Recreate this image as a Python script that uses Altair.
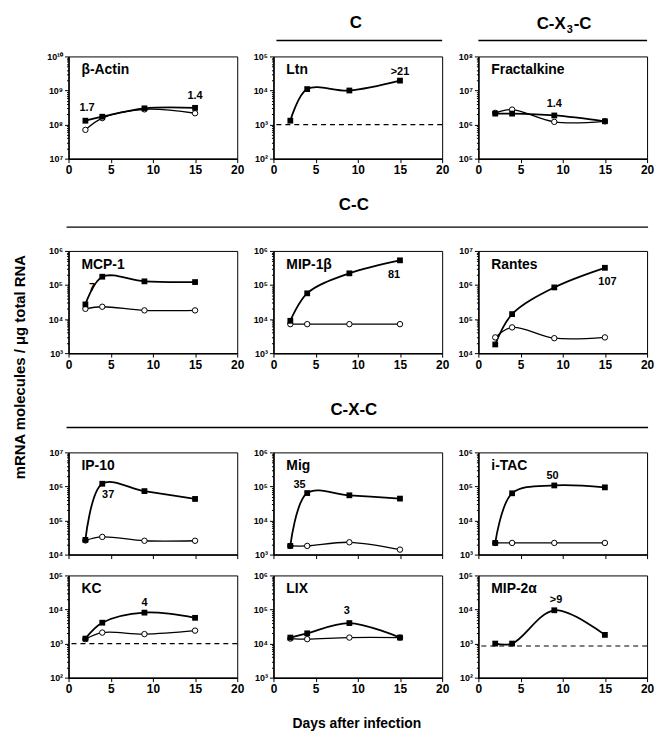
import altair as alt
import pandas as pd

FONT = "Liberation Sans"

DAYS = [2, 4, 9, 15]
XTICKS = [0, 5, 10, 15, 20]

# infected (filled squares) and control (open circles) series
actin_inf = [1.3e8, 1.7e8, 3.0e8, 3.1e8]
actin_ctl = [7.0e7, 1.55e8, 2.8e8, 2.15e8]
ltn_inf = [1.3e3, 1.1e4, 1.0e4, 1.95e4]
fkn_inf = [2.1e6, 2.1e6, 1.85e6, 1.25e6]
fkn_ctl = [2.2e6, 2.75e6, 1.2e6, 1.25e6]
mcp1_inf = [2.7e4, 1.75e5, 1.28e5, 1.22e5]
mcp1_ctl = [2.0e4, 2.3e4, 1.8e4, 1.8e4]
mip1b_inf = [8.9e3, 5.7e4, 2.2e5, 5.3e5]
mip1b_ctl = [7.1e3, 7.1e3, 7.1e3, 7.1e3]
rantes_inf = [1.8e4, 1.4e5, 8.5e5, 3.2e6]
rantes_ctl = [2.9e4, 5.7e4, 2.75e4, 2.9e4]
ip10_inf = [2.7e4, 1.2e6, 7.3e5, 4.3e5]
ip10_ctl = [2.6e4, 3.3e4, 2.55e4, 2.55e4]
mig_inf = [1.8e3, 6.4e4, 5.5e4, 4.4e4]
mig_ctl = [1.8e3, 1.8e3, 2.3e3, 1.4e3]
itac_inf = [2.2e3, 6.3e4, 1.07e5, 9.4e4]
itac_ctl = [2.2e3, 2.2e3, 2.2e3, 2.2e3]
kc_inf = [1.4e3, 4.1e3, 8.1e3, 5.7e3]
kc_ctl = [1.35e3, 2.1e3, 1.9e3, 2.4e3]
lix_inf = [1.5e4, 2.0e4, 4.0e4, 1.5e4]
lix_ctl = [1.4e4, 1.35e4, 1.5e4, 1.5e4]
mip2a_inf = [1.0e3, 1.0e3, 9.5e3, 1.8e3]

# fold-change annotations: (day, value, text)
actin_ann = [(2.2, 3.0e8, "1.7"), (15, 7.0e8, "1.4")]
ltn_ann = [(15, 3.5e4, ">21")]
fkn_ann = [(9, 3.9e6, "1.4")]
mcp1_ann = [(2.8, 8.0e4, "7")]
mip1b_ann = [(14.3, 2.0e5, "81")]
rantes_ann = [(15.3, 1.2e6, "107")]
ip10_ann = [(4.7, 5.6e5, "37")]
mig_ann = [(3.1, 1.1e5, "35")]
itac_ann = [(8.8, 2.0e5, "50")]
kc_ann = [(9, 1.6e4, "4")]
lix_ann = [(8.7, 9.0e4, "3")]
mip2a_ann = [(9.2, 1.95e4, ">9")]

W, H = 170, 103

LOG = "(log(datum.value)/LN10)"
MAJOR = f"abs({LOG} - round({LOG})) < 0.01"
LABEL = (f"{MAJOR} ? '10' + (round({LOG}) >= 10 ? '¹⁰' : "
         f"substring('⁰¹²³⁴⁵⁶⁷⁸⁹', round({LOG}), round({LOG}) + 1)) : ''")


def txt(t, x, y, size=17, angle=0, align="center"):
    kw = dict(fontSize=size, fontWeight="bold", font=FONT, align=align,
              baseline="middle", color="black")
    if angle:
        kw["angle"] = angle
    return alt.Chart(pd.DataFrame({"t": [t]})).mark_text(**kw).encode(
        text="t:N", x=alt.value(x), y=alt.value(y))


def hline(x1, x2, y):
    return alt.Chart(pd.DataFrame({"t": [""]})).mark_rule(
        color="black", strokeWidth=1.5).encode(
        x=alt.value(x1), x2=alt.value(x2), y=alt.value(y))


def panel(name, lo, inf, ctl=None, ann=(), thr=None, xlabels=True, extras=()):
    ymin, ymax = 10.0 ** lo, 10.0 ** (lo + 3)
    yticks = [k * 10.0 ** e for e in range(lo, lo + 3) for k in range(1, 10)] + [ymax]
    xs = alt.X("d:Q", scale=alt.Scale(domain=[0, 20], nice=False),
               axis=alt.Axis(values=XTICKS, labels=xlabels, labelFontSize=12,
                             tickSize=4, labelPadding=2, title=None))
    ys = alt.Y("v:Q", scale=alt.Scale(type="log", domain=[ymin, ymax], nice=False),
               axis=alt.Axis(values=yticks, labelExpr=LABEL, labelFontSize=9,
                             tickSize={"condition": {"test": MAJOR, "value": 4}, "value": 2},
                             labelPadding=2, title=None))
    layers = []
    if thr is not None:
        layers.append(alt.Chart(pd.DataFrame({"v": [thr]})).mark_rule(
            color="black", strokeDash=[5, 4], strokeWidth=1.2).encode(y=ys))
    dfi = pd.DataFrame({"d": DAYS, "v": inf})
    layers.append(alt.Chart(dfi).mark_line(color="black", strokeWidth=1.8,
                                           interpolate="catmull-rom").encode(x=xs, y=ys))
    if ctl is not None:
        dfc = pd.DataFrame({"d": DAYS, "v": ctl})
        layers.append(alt.Chart(dfc).mark_line(color="black", strokeWidth=1.3,
                                               interpolate="catmull-rom").encode(x=xs, y=ys))
        layers.append(alt.Chart(dfc).mark_point(shape="circle", filled=True, fill="white",
                                                stroke="black", strokeWidth=1, size=30,
                                                opacity=1).encode(x=xs, y=ys))
    layers.append(alt.Chart(dfi).mark_point(shape="square", filled=True, color="black",
                                            size=34, opacity=1).encode(x=xs, y=ys))
    if ann:
        adf = pd.DataFrame({"d": [a[0] for a in ann], "v": [a[1] for a in ann],
                            "t": [a[2] for a in ann]})
        layers.append(alt.Chart(adf).mark_text(fontSize=11, fontWeight="bold", font=FONT,
                                               baseline="middle", color="black").encode(
            x=xs, y=ys, text="t:N"))
    layers.append(alt.Chart(pd.DataFrame({"t": [name]})).mark_text(
        align="left", baseline="alphabetic", fontSize=14, fontWeight="bold", font=FONT,
        color="black").encode(text="t:N", x=alt.value(13), y=alt.value(18)))
    layers.extend(extras)
    return alt.layer(*layers).properties(width=W, height=H)


def blank(h, extras=()):
    base = alt.Chart(pd.DataFrame({"t": [""]})).mark_text().encode(
        text="t:N", x=alt.value(0), y=alt.value(0))
    return alt.layer(base, *extras).properties(
        width=W, height=h, view=alt.ViewBackground(stroke="transparent"))


H2, H3 = 51, 58

cx3c_header = [
    txt("C-X", 88, -33, align="right"),
    txt("3", 89, -27, size=11, align="left"),
    txt("-C", 96, -33, align="left"),
    hline(0, 170, -16),
]

cells = [
    panel("β-Actin", 7, actin_inf, actin_ctl, actin_ann),
    panel("Ltn", 2, ltn_inf, None, ltn_ann, thr=1e3,
          extras=[txt("C", 83, -34), hline(3, 170, -16)]),
    panel("Fractalkine", 5, fkn_inf, fkn_ctl, fkn_ann, extras=cx3c_header),
    blank(H2, [hline(-2, 584, 48)]),
    blank(H2, [txt("C-C", 81, 26)]),
    blank(H2),
    panel("MCP-1", 3, mcp1_inf, mcp1_ctl, mcp1_ann,
          extras=[txt("mRNA molecules / μg total RNA", -49, 117, size=15, angle=270)]),
    panel("MIP-1β", 3, mip1b_inf, mip1b_ctl, mip1b_ann),
    panel("Rantes", 4, rantes_inf, rantes_ctl, rantes_ann),
    blank(H3, [hline(-2, 584, 54)]),
    blank(H3, [txt("C-X-C", 81, 36)]),
    blank(H3),
    panel("IP-10", 4, ip10_inf, ip10_ctl, ip10_ann, xlabels=False),
    panel("Mig", 3, mig_inf, mig_ctl, mig_ann, xlabels=False),
    panel("i-TAC", 3, itac_inf, itac_ctl, itac_ann, xlabels=False),
    panel("KC", 2, kc_inf, kc_ctl, kc_ann, thr=1e3),
    panel("LIX", 3, lix_inf, lix_ctl, lix_ann,
          extras=[txt("Days after infection", 84, 150, size=14)]),
    panel("MIP-2α", 2, mip2a_inf, None, mip2a_ann, thr=850),
]

chart = alt.concat(*cells, columns=3, spacing={"row": 21, "column": 36.5},
                   bounds="flush").properties(
    padding={"left": 4, "top": 2, "right": 2, "bottom": 2}
).configure_view(stroke="black", strokeWidth=1).configure_axis(
    labelFont=FONT, labelFontWeight="bold", labelColor="black", domainColor="black",
    tickColor="black", domainWidth=1.5, tickWidth=1, grid=False, labelFlush=False,
    labelOverlap=False
)

chart.save("out.html", embed_options={"renderer": "svg", "actions": False})
